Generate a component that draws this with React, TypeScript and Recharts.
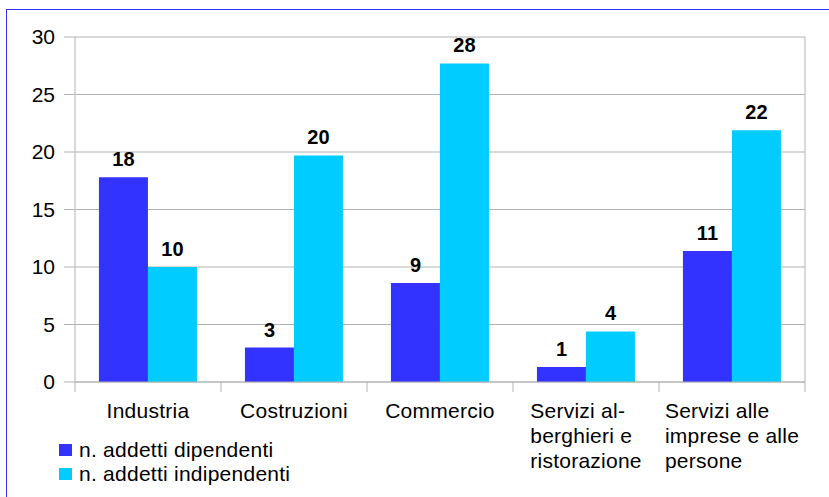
import { BarChart, Bar, XAxis, YAxis, CartesianGrid, Legend, LabelList } from 'recharts';

// categories as printed under the axis (\n marks the line breaks)
const categories = [
  'Industria',
  'Costruzioni',
  'Commercio',
  'Servizi al-\nberghieri e\nristorazione',
  'Servizi alle\nimprese e alle\npersone',
];
const seriesNames = ['n. addetti dipendenti', 'n. addetti indipendenti'];
const dipendenti = [17.8, 3.0, 8.6, 1.3, 11.4];
const indipendenti = [10.0, 19.7, 27.7, 4.4, 21.9];
const yTicks = [0, 5, 10, 15, 20, 25, 30];

const data = categories.map((name, i) => ({
  name,
  dip: dipendenti[i],
  ind: indipendenti[i],
}));

const BLUE = '#3333ff';
const CYAN = '#00ccff';
const GRID = '#b3b3b3';
const FONT_FAMILY = '"Liberation Sans", Arial, sans-serif';
const FONT_SIZE = 21;
const SPACING = 0.25;

let ctx: CanvasRenderingContext2D | null = null;
const measure = (s: string) => {
  if (!ctx) ctx = document.createElement('canvas').getContext('2d');
  if (!ctx) return s.length * 10;
  ctx.font = `${FONT_SIZE}px ${FONT_FAMILY}`;
  return ctx.measureText(s).width + s.length * SPACING;
};

const CategoryTick = (props: any) => {
  const { x, y, payload, index, visibleTicksCount, width } = props;
  const half =
    typeof payload.offset === 'number' && payload.offset > 0
      ? payload.offset
      : width / visibleTicksCount / 2;
  const lines = String(payload.value).split('\n');
  const multi = lines.length > 1;
  const w = Math.max(...lines.map(measure));
  const tx = multi ? x - w / 2 : x;
  return (
    <g>
      <line x1={x - half} x2={x - half} y1={y} y2={y + 10} stroke={GRID} />
      {index === categories.length - 1 && (
        <line x1={x + half} x2={x + half} y1={y} y2={y + 10} stroke={GRID} />
      )}
      <text
        x={tx}
        y={y + 36}
        textAnchor={multi ? 'start' : 'middle'}
        fontSize={FONT_SIZE}
        fill="#000"
        style={{ letterSpacing: SPACING }}
      >
        {lines.map((l, i) => (
          <tspan key={i} x={tx} dy={i === 0 ? 0 : 25}>
            {l}
          </tspan>
        ))}
      </text>
    </g>
  );
};

const LegendBox = (props: any) => {
  const items = props.payload || [];
  return (
    <div style={{ height: 48 }}>
      {items.map((it: any) => (
        <div
          key={it.value}
          style={{
            height: 24,
            display: 'flex',
            alignItems: 'center',
            fontSize: FONT_SIZE,
            letterSpacing: SPACING,
            color: '#000',
          }}
        >
          <span style={{ width: 13, height: 12, background: it.color, marginRight: 7, display: 'inline-block' }} />
          <span>{it.value}</span>
        </div>
      ))}
    </div>
  );
};

export default function App() {
  return (
    <div
      style={{
        position: 'absolute',
        left: 0,
        top: 0,
        width: 829,
        height: 497,
        overflow: 'hidden',
        background: '#fff',
        fontFamily: FONT_FAMILY,
      }}
    >
      <div
        style={{
          position: 'absolute',
          left: 6,
          top: 9,
          width: 860,
          height: 520,
          border: `1px solid ${BLUE}`,
        }}
      />
      <BarChart
        width={829}
        height={497}
        data={data}
        margin={{ top: 37, right: 0, left: 0, bottom: 11 }}
        barCategoryGap="16.4%"
        barGap={0}
      >
        <CartesianGrid vertical={false} stroke={GRID} />
        <XAxis
          dataKey="name"
          height={56}
          interval={0}
          tickSize={0}
          tickMargin={0}
          tickLine={false}
          axisLine={{ stroke: GRID }}
          tick={<CategoryTick />}
        />
        <YAxis
          domain={[0, 30]}
          ticks={yTicks}
          interval={0}
          width={75}
          tickSize={11}
          tickMargin={9}
          tickLine={{ stroke: GRID }}
          axisLine={{ stroke: GRID }}
          tick={{ fill: '#000', fontSize: FONT_SIZE }}
        />
        <YAxis
          yAxisId="r"
          orientation="right"
          domain={[0, 30]}
          width={24}
          tick={false}
          tickLine={false}
          axisLine={{ stroke: GRID }}
        />
        <Legend
          verticalAlign="bottom"
          align="left"
          layout="horizontal"
          content={<LegendBox />}
          wrapperStyle={{ left: 59, bottom: 11, width: 320, height: 48 }}
        />
        <Bar dataKey="dip" name={seriesNames[0]} fill={BLUE} isAnimationActive={false}>
          <LabelList
            dataKey="dip"
            position="top"
            offset={11}
            formatter={(v: any) => Math.round(Number(v))}
            style={{ fontWeight: 'bold', fontSize: 20, fill: '#000' }}
          />
        </Bar>
        <Bar dataKey="ind" name={seriesNames[1]} fill={CYAN} isAnimationActive={false}>
          <LabelList
            dataKey="ind"
            position="top"
            offset={11}
            formatter={(v: any) => Math.round(Number(v))}
            style={{ fontWeight: 'bold', fontSize: 20, fill: '#000' }}
          />
        </Bar>
      </BarChart>
    </div>
  );
}
